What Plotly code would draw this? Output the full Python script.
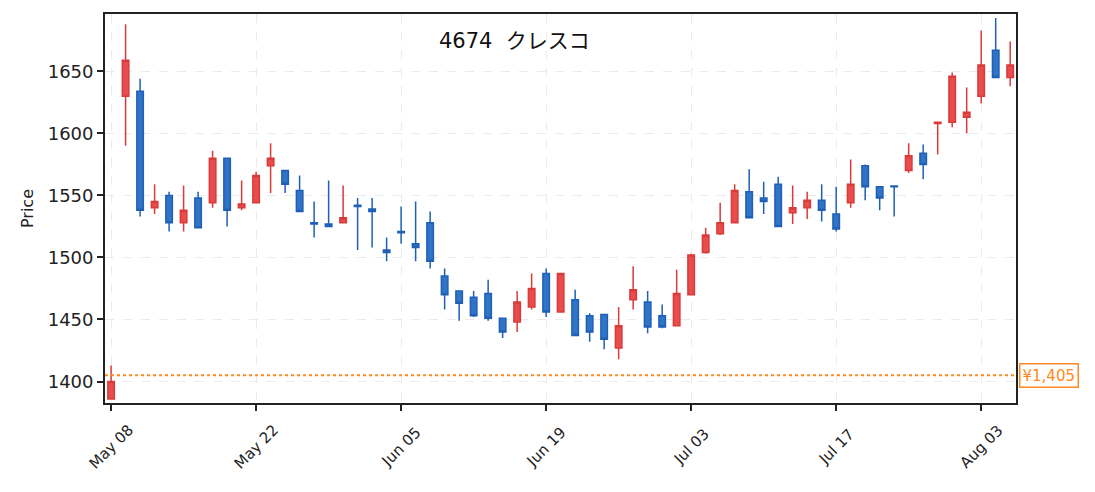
import plotly.graph_objects as go

# daily OHLC for 4674 (trading-day index on x)
opens = [1386, 1630, 1634, 1540, 1550, 1528, 1548, 1544, 1580, 1540,
         1544, 1574, 1570, 1554, 1528, 1527, 1528, 1542, 1539, 1506,
         1521, 1511, 1528, 1485, 1473, 1468, 1471, 1451, 1448, 1460,
         1487, 1456, 1466, 1453, 1454, 1427, 1466, 1464, 1453, 1445,
         1470, 1504, 1519, 1528, 1553, 1548, 1559, 1536, 1540, 1546,
         1535, 1544, 1574, 1557, 1557.5, 1570, 1584, 1608, 1609, 1613,
         1630, 1667, 1645]
highs = [1413, 1688, 1644, 1559, 1553, 1558, 1553, 1586, 1580, 1562,
         1569, 1592, 1570, 1566, 1545, 1562, 1558, 1548, 1548, 1516,
         1541, 1545, 1537, 1491, 1473, 1473, 1482, 1451, 1473, 1487,
         1491, 1487, 1474, 1455, 1454, 1460, 1493, 1473, 1462, 1490,
         1503, 1524, 1544, 1559, 1571, 1561, 1565, 1558, 1553, 1559,
         1557, 1579, 1575, 1557, 1558, 1592, 1591, 1609, 1649, 1637,
         1683, 1693, 1674]
lows = [1386, 1590, 1533, 1535, 1521, 1521, 1524, 1540, 1525, 1538,
        1544, 1552, 1552, 1537, 1516, 1525, 1528, 1506, 1508, 1497,
        1511, 1497, 1491, 1458, 1449, 1452, 1449, 1435, 1440, 1458,
        1452, 1456, 1437, 1432, 1426, 1418, 1458, 1439, 1443, 1445,
        1470, 1503, 1518, 1528, 1532, 1535, 1525, 1527, 1531, 1529,
        1521, 1540, 1546, 1538, 1533, 1568, 1563, 1583, 1605, 1600,
        1624, 1645, 1638]
closes = [1400, 1659, 1538, 1545, 1528, 1538, 1524, 1580, 1538, 1543,
          1566, 1580, 1559, 1537, 1527, 1525, 1532, 1541, 1537, 1504,
          1520, 1508, 1497, 1470, 1463, 1453, 1451, 1440, 1464, 1475,
          1456, 1487, 1437, 1440, 1434, 1445, 1474, 1444, 1444, 1471,
          1502, 1518, 1528, 1554, 1532, 1545, 1525, 1540, 1546, 1538,
          1523, 1559, 1557, 1548, 1557, 1582, 1575, 1609, 1646, 1617,
          1655, 1645, 1655]

tick_pos = [0, 10, 20, 30, 40, 50, 60]
tick_labels = ["May 08", "May 22", "Jun 05", "Jun 19", "Jul 03", "Jul 17", "Aug 03"]

ref_price = 1405
ref_label = "¥1,405"
title_text = "4674  クレスコ"

FONT = "DejaVu Sans, Noto Sans CJK JP"
idx = list(range(len(opens)))

fig = go.Figure()
fig.add_trace(go.Candlestick(
    x=idx, open=opens, high=highs, low=lows, close=closes,
    increasing=dict(line=dict(color="#d93b3b", width=1.5), fillcolor="#e84c4c"),
    decreasing=dict(line=dict(color="#1f60b6", width=1.5), fillcolor="#2f74c7"),
    whiskerwidth=0,
    showlegend=False,
))

fig.add_shape(type="line", xref="paper", x0=0, x1=1, yref="y", y0=ref_price, y1=ref_price,
              line=dict(color="#ff8a22", width=2, dash="dot"))

fig.add_annotation(xref="paper", x=1.003, xanchor="left", yref="y", y=ref_price,
                   text=ref_label, showarrow=False,
                   font=dict(family=FONT, size=15, color="#ff8a22"),
                   bgcolor="white", bordercolor="#ff8a22", borderwidth=1.5, borderpad=2)

fig.add_annotation(xref="paper", x=0.4495, yref="paper", y=0.9306,
                   xanchor="center", yanchor="middle",
                   text=title_text, showarrow=False,
                   font=dict(family=FONT, size=21, color="#111"))

# rotated date labels centred under their ticks
for pos, lab in zip(tick_pos, tick_labels):
    fig.add_annotation(xref="x", x=pos, yref="paper", y=0, yshift=-44,
                       text=lab, textangle=-45, showarrow=False,
                       xanchor="center", yanchor="middle",
                       font=dict(family=FONT, size=15, color="#222"))

fig.update_layout(
    width=1087, height=484,
    margin=dict(l=97, r=79, t=6, b=89, autoexpand=False),
    plot_bgcolor="white", paper_bgcolor="white",
    font=dict(family=FONT, color="#222"),
    boxgap=0.36,
)

fig.update_xaxes(
    range=[-0.42, 62.4], rangeslider_visible=False,
    tickmode="array", tickvals=tick_pos, showticklabels=False,
    ticks="outside", ticklen=6, tickwidth=1.5, tickcolor="#222",
    showline=True, linecolor="#222", linewidth=1.8, mirror=True,
    showgrid=True, gridcolor="#ebebeb", griddash="dash", gridwidth=1, zeroline=False,
)
fig.update_yaxes(
    range=[1382.7, 1696.2], tickvals=[1400, 1450, 1500, 1550, 1600, 1650],
    tickfont=dict(size=18), ticks="outside", ticklen=6, tickwidth=1.5, tickcolor="#222",
    showline=True, linecolor="#222", linewidth=1.8, mirror=True,
    showgrid=True, gridcolor="#ebebeb", griddash="dash", gridwidth=1, zeroline=False,
    title=dict(text="Price", font=dict(size=16), standoff=10),
)

fig.write_html("out.html")
